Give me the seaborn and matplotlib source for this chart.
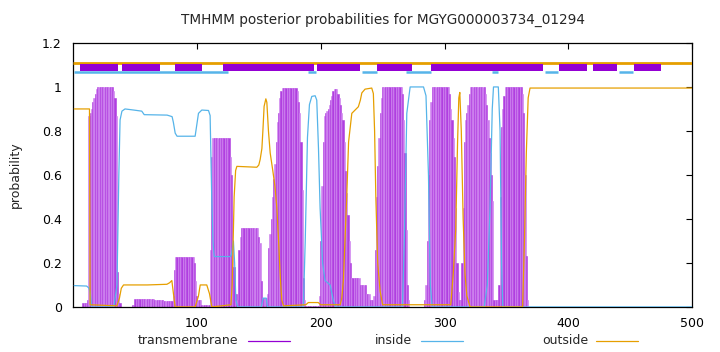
import numpy as np
import pandas as pd
import seaborn as sns
import matplotlib.pyplot as plt
from matplotlib.lines import Line2D

# sequence length and per-residue transmembrane probability (run starts, value holds to next start)
seq_len = 500
tm_runs = [(1, 0.0), (8, 0.02), (12, 0.03), (13, 0.87), (14, 0.88), (15, 0.9), (16, 0.93),
           (17, 0.95), (18, 0.97), (19, 0.99), (20, 1.0), (33, 0.98), (34, 0.95), (35, 0.87),
           (36, 0.16), (37, 0.06), (38, 0.02), (39, 0.0), (48, 0.01), (50, 0.035), (66, 0.03),
           (73, 0.025), (81, 0.05), (82, 0.17), (83, 0.225), (98, 0.2), (99, 0.12), (100, 0.05),
           (101, 0.03), (104, 0.01), (111, 0.26), (112, 0.68), (113, 0.77), (127, 0.68),
           (128, 0.6), (129, 0.3), (130, 0.18), (131, 0.06), (133, 0.03), (134, 0.26),
           (135, 0.32), (136, 0.36), (150, 0.32), (151, 0.29), (152, 0.12), (153, 0.04),
           (157, 0.06), (158, 0.27), (159, 0.33), (160, 0.4), (161, 0.5), (162, 0.58),
           (163, 0.65), (164, 0.75), (165, 0.84), (166, 0.88), (167, 0.95), (168, 0.98),
           (169, 0.995), (181, 0.98), (182, 0.93), (183, 0.88), (184, 0.75), (185, 0.53),
           (186, 0.13), (187, 0.03), (188, 0.005), (199, 0.05), (200, 0.3), (201, 0.55),
           (202, 0.75), (203, 0.87), (204, 0.88), (205, 0.89), (206, 0.9), (207, 0.92),
           (208, 0.94), (209, 0.96), (210, 0.98), (211, 0.99), (214, 0.97), (215, 0.95),
           (216, 0.92), (217, 0.88), (218, 0.85), (219, 0.75), (220, 0.62), (221, 0.52),
           (222, 0.42), (223, 0.3), (224, 0.2), (225, 0.13), (232, 0.1), (237, 0.06),
           (240, 0.03), (243, 0.05), (244, 0.26), (245, 0.5), (246, 0.64), (247, 0.77),
           (248, 0.88), (249, 0.95), (250, 1.0), (266, 0.97), (267, 0.85), (268, 0.7),
           (269, 0.35), (270, 0.1), (271, 0.03), (272, 0.0), (284, 0.03), (285, 0.1),
           (286, 0.3), (287, 0.6), (288, 0.85), (289, 0.93), (290, 1.0), (304, 0.97),
           (305, 0.9), (306, 0.85), (307, 0.77), (308, 0.68), (309, 0.45), (310, 0.2),
           (311, 0.07), (312, 0.03), (314, 0.2), (315, 0.45), (316, 0.75), (317, 0.85),
           (318, 0.88), (319, 0.92), (320, 0.97), (321, 1.0), (333, 0.97), (334, 0.92),
           (335, 0.85), (336, 0.77), (337, 0.7), (338, 0.6), (339, 0.48), (340, 0.03),
           (344, 0.1), (345, 0.5), (346, 0.82), (347, 0.9), (348, 0.96), (349, 1.0),
           (363, 0.97), (364, 0.88), (365, 0.6), (366, 0.23), (367, 0.03), (368, 0.0)]

inside_x = [1, 11, 13, 14, 15, 33, 35.5, 37, 38, 39.5, 42, 49, 55.5, 57.5, 76, 80, 81, 82.5,
            84, 98.6, 100, 101.3, 104, 109.4, 110.7, 112, 113, 114, 127, 128, 129.5, 130.5,
            131.5, 133, 152, 153.5, 156, 157, 186, 187.5, 189.3, 190.9, 192.8, 195.5, 196.8,
            198.2, 199.5, 201.5, 203.5, 207.6, 210.2, 212, 266, 267.5, 269.5, 272.2, 283, 285,
            287, 288.5, 290, 332, 334.5, 336.7, 338.5, 339.5, 343.4, 344.8, 346, 347, 500]
inside_y = [0.097, 0.095, 0.085, 0.06, 0.0, 0.0, 0.1, 0.6, 0.85, 0.89, 0.9, 0.895, 0.89, 0.874,
            0.872, 0.865, 0.84, 0.79, 0.776, 0.776, 0.83, 0.88, 0.895, 0.893, 0.87, 0.5, 0.3,
            0.229, 0.229, 0.24, 0.3, 0.2, 0.03, 0.0, 0.0, 0.04, 0.04, 0.0, 0.0, 0.3, 0.77, 0.92,
            0.957, 0.96, 0.94, 0.72, 0.45, 0.2, 0.12, 0.1, 0.03, 0.0, 0.0, 0.3, 0.88, 1.0, 1.0,
            0.96, 0.6, 0.1, 0.0, 0.0, 0.1, 0.45, 0.9, 1.0, 1.0, 0.8, 0.2, 0.0, 0.0]

outside_x = [1, 13.3, 13.8, 35.4, 37.5, 39, 40.8, 60, 75.8, 78, 79.8, 81.1, 82.5, 98.6, 101.3,
             102.7, 108, 110.2, 112.1, 127.5, 128.5, 130.1, 131.3, 132.3, 148.4, 150, 151.1,
             152.5, 153.3, 154.3, 155.7, 156.5, 157.8, 159.2, 161.3, 163, 164.6, 166, 167.5,
             168.6, 170, 188, 190, 198, 200, 215.7, 217, 218.3, 221, 222.5, 225.1, 230.4, 232,
             233.2, 235.8, 241.2, 242.5, 243.5, 244.5, 246, 248, 250, 305, 307, 309, 310.5,
             311.5, 312.3, 313.5, 315, 316.5, 318, 320.6, 363, 364.5, 366, 367.5, 369, 500]
outside_y = [0.9, 0.9, 0.01, 0.005, 0.04, 0.085, 0.1, 0.1, 0.103, 0.11, 0.12, 0.06, 0.0, 0.0,
             0.05, 0.1, 0.1, 0.06, 0.0, 0.01, 0.1, 0.5, 0.62, 0.639, 0.635, 0.645, 0.67, 0.72,
             0.8, 0.912, 0.946, 0.93, 0.8, 0.7, 0.62, 0.55, 0.45, 0.3, 0.12, 0.03, 0.005, 0.01,
             0.02, 0.02, 0.01, 0.01, 0.04, 0.12, 0.5, 0.75, 0.88, 0.91, 0.94, 0.973, 0.99,
             0.995, 0.97, 0.8, 0.5, 0.2, 0.07, 0.01, 0.01, 0.15, 0.35, 0.75, 0.95, 0.975, 0.8,
             0.4, 0.15, 0.05, 0.0, 0.0, 0.3, 0.7, 0.95, 0.995, 0.995]

# predicted topology strip above the curves
topo_outside = [(0, 500)]
topo_inside = [(1, 125), (190, 196.3), (233.4, 245.5), (268.9, 289.1), (338.3, 343.2),
               (381.1, 391.6), (440.8, 452)]
topo_tm = [(5.8, 36.7), (39.5, 70.4), (82.2, 104.3), (121.2, 194.7), (196.9, 231.8),
           (245.8, 273.8), (288.9, 379.7), (392.4, 415), (419.6, 439.2), (452.7, 474.7)]

purple = '#9400d3'
cyan = '#56b4e9'
orange = '#e69f00'

sns.set_style('white')
plt.rcParams['font.family'] = ['DejaVu Sans']

residues = np.arange(1, seq_len + 1)
starts = np.array([r[0] for r in tm_runs])
vals = np.array([r[1] for r in tm_runs])
prob = vals[np.searchsorted(starts, residues, side='right') - 1]
df = pd.DataFrame({'residue': residues, 'prob': prob})

fig, ax = plt.subplots(figsize=(7.2, 3.52), dpi=100)
fig.subplots_adjust(left=0.1014, right=0.9615, top=0.878, bottom=0.128)

bar_cols = np.where(df['residue'] % 2 == 0, '#b03ee0', '#cc7eee')
ax.bar(df['residue'], df['prob'], width=1.0, color=bar_cols, edgecolor=bar_cols,
       linewidth=0.4, zorder=2)

sns.lineplot(x=inside_x, y=inside_y, ax=ax, color=cyan, lw=0.9, sort=False, estimator=None, zorder=3)
sns.lineplot(x=outside_x, y=outside_y, ax=ax, color=orange, lw=0.9, sort=False, estimator=None, zorder=3)

for a, b in topo_outside:
    ax.hlines(1.109, a, b, color=orange, lw=2.0, zorder=4)
for a, b in topo_inside:
    ax.hlines(1.068, a, b, color=cyan, lw=1.8, zorder=4)
ax.bar(x=[a for a, b in topo_tm], height=0.029, width=[b - a for a, b in topo_tm],
       bottom=1.074, align='edge', color=purple, linewidth=0, zorder=5)

ax.set_xlim(0, 500)
ax.set_ylim(0, 1.2)
ax.set_xticks([100, 200, 300, 400, 500])
ax.set_yticks([0, 0.2, 0.4, 0.6, 0.8, 1.0, 1.2])
ax.set_yticklabels(['0', '0.2', '0.4', '0.6', '0.8', '1', '1.2'])
ax.tick_params(direction='in', top=True, right=True, length=4, width=0.8, labelsize=9,
               colors='black')
ax.tick_params(axis='x', pad=7)
ax.tick_params(axis='y', pad=8)
for s in ax.spines.values():
    s.set_color('black')
    s.set_linewidth(0.9)
ax.set_xlabel('')
ax.set_ylabel('probability', fontsize=9)
ax.yaxis.set_label_coords(-0.083, 0.5)
ax.set_title('TMHMM posterior probabilities for MGYG000003734_01294', fontsize=9.8, pad=14)

# legend row under the axis
leg = [('transmembrane', purple, 238, 248), ('inside', cyan, 412, 421), ('outside', orange, 588, 596)]
for label, col, tx, lx in leg:
    fig.text(tx / 720, 1 - 341 / 352, label, ha='right', va='center', fontsize=9)
    fig.add_artist(Line2D([lx / 720, (lx + 42) / 720], [1 - 341 / 352] * 2, color=col, lw=0.9))

fig.savefig('out.png', dpi=100)
